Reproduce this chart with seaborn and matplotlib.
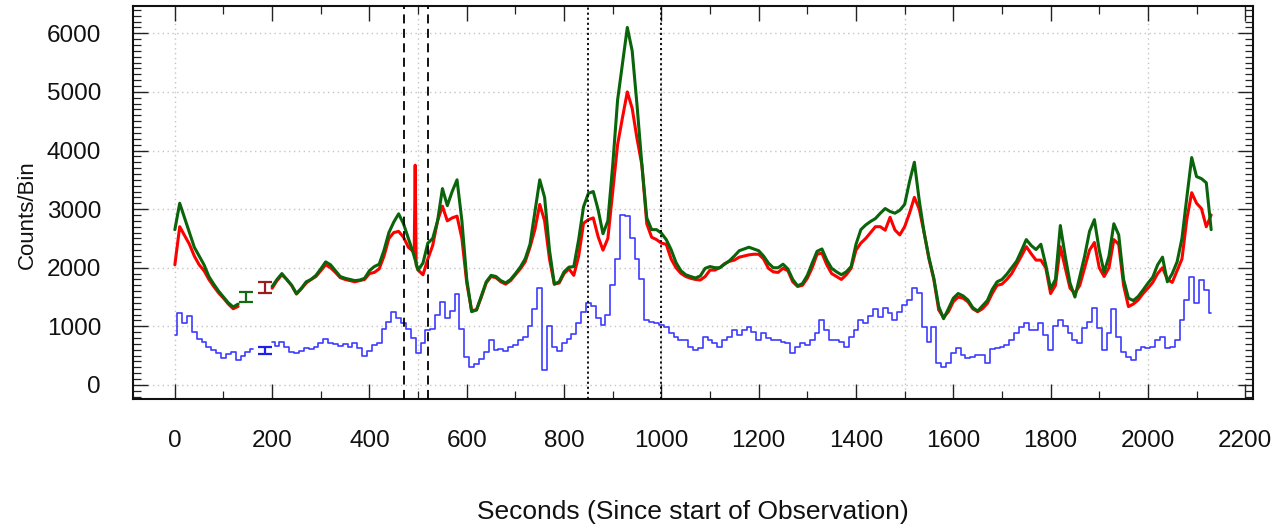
import numpy as np
import pandas as pd
import matplotlib
matplotlib.use("Agg")
import matplotlib.pyplot as plt
import seaborn as sns
from matplotlib.ticker import MultipleLocator

# 10 s bins, seconds since start of observation
time_s = np.arange(0, 2131, 10)
nan = np.nan

green_counts = [
    2650, 3100, 2850, 2600, 2350, 2200, 2050, 1850, 1720, 1600,
    1500, 1400, 1330, 1380, nan, nan, nan, nan, nan, nan,
    1680, 1800, 1900, 1800, 1700, 1560, 1650, 1760, 1800, 1870,
    1980, 2100, 2050, 1950, 1850, 1820, 1800, 1780, 1790, 1820,
    1950, 2020, 2060, 2300, 2600, 2780, 2920, 2750, 2500, 2250,
    1960, 2080, 2420, 2500, 2800, 3350, 3060, 3300, 3500, 2800,
    1800, 1250, 1280, 1520, 1760, 1870, 1850, 1780, 1740, 1800,
    1900, 2010, 2150, 2400, 2950, 3500, 3200, 2300, 1720, 1760,
    1930, 2010, 2020, 2480, 3040, 3270, 3300, 2990, 2580, 2800,
    3750, 4860, 5480, 6100, 5700, 4770, 3750, 2850, 2650, 2650,
    2590, 2480, 2310, 2090, 1950, 1880, 1850, 1825, 1860, 1990,
    2020, 2000, 2000, 2060, 2120, 2200, 2290, 2320, 2350, 2320,
    2290, 2200, 2080, 2000, 2000, 2060, 1980, 1800, 1690, 1730,
    1870, 2080, 2280, 2320, 2130, 1990, 1930, 1880, 1930, 2020,
    2400, 2650, 2730, 2790, 2840, 2930, 3010, 2960, 2930, 2980,
    3080, 3470, 3800, 3150, 2600, 2170, 1820, 1340, 1130, 1300,
    1480, 1560, 1520, 1450, 1320, 1260, 1350, 1440, 1630, 1760,
    1800, 1890, 2000, 2110, 2290, 2480, 2380, 2310, 2400, 2050,
    1640, 1800, 2720, 2200, 1735, 1500, 1850, 2200, 2620, 2820,
    2300, 1920, 2200, 2750, 2560, 1800, 1480, 1440, 1510, 1620,
    1735, 1840, 2050, 2180, 1760, 1900, 2100, 2500, 3200, 3880,
    3555, 3520, 3450, 2650,
]

red_counts = [
    2050, 2700, 2550, 2400, 2200, 2050, 1950, 1800, 1680, 1570,
    1480, 1380, 1300, 1340, nan, nan, nan, nan, nan, nan,
    1650, 1780, 1880, 1800, 1700, 1550, 1640, 1740, 1800, 1850,
    1950, 2050, 2000, 1920, 1830, 1800, 1780, 1760, 1780, 1800,
    1900, 1920, 1980, 2200, 2500, 2600, 2620, 2520, 2350, 2280,
    1960, 1880, 2150, 2380, 2800, 3050, 2800, 2850, 2880, 2500,
    1740, 1270, 1280, 1500, 1740, 1850, 1830, 1760, 1720, 1780,
    1880, 1980, 2100, 2350, 2650, 3080, 2800, 2150, 1720, 1740,
    1900, 1980, 1870, 2200, 2760, 2820, 2850, 2530, 2300, 2500,
    3300, 4100, 4560, 5000, 4720, 4200, 3750, 2750, 2520, 2480,
    2420, 2400, 2150, 2000, 1905, 1850, 1820, 1800, 1790, 1850,
    1960, 1960, 2000, 2070, 2110, 2130, 2180, 2200, 2220, 2230,
    2230, 2150, 1990, 1930, 1920, 1990, 1950, 1760, 1680, 1700,
    1820, 2000, 2230, 2250, 2050, 1900, 1850, 1800, 1880, 1990,
    2300, 2420, 2500, 2600, 2700, 2700, 2640, 2860, 2645, 2560,
    2700, 2930, 3200, 3000, 2600, 2150, 1800, 1280, 1150, 1250,
    1420, 1500, 1480, 1420, 1300, 1250, 1300, 1390, 1560, 1700,
    1720, 1800, 1900, 2050, 2200, 2360, 2240, 2130, 2130, 2000,
    1560, 1700, 2360, 2000, 1650, 1564, 1700, 2000, 2300, 2430,
    2000, 1850, 2000, 2480, 2400, 1700, 1337, 1380, 1450, 1560,
    1650, 1750, 1900, 2000, 1800, 1750, 1950, 2150, 2830, 3280,
    3100, 3010, 2700, 2900,
]

# single-bin flare in the red band
red_spike_time = [492, 494, 496]
red_spike_counts = [2250, 3750, 2050]

blue_counts = [
    860, 1220, 1060, 1180, 900, 780, 730, 640, 600, 540,
    460, 520, 570, 430, 490, 570, 620, nan, nan, nan,
    740, 660, 740, 650, 570, 545, 580, 626, 610, 654,
    711, 780, 723, 700, 666, 690, 654, 711, 626, 500,
    586, 683, 712, 960, 1070, 1250, 1140, 1050, 960, 800,
    540, 720, 940, 960, 1200, 1420, 1150, 1260, 1560, 950,
    480, 300, 360, 450, 560, 760, 600, 620, 580, 640,
    680, 770, 820, 1000, 1300, 1650, 256, 1000, 640, 580,
    720, 790, 870, 1050, 1251, 1393, 1350, 1150, 1030, 1200,
    1700, 2150, 2900, 2880, 2500, 2150, 1800, 1110, 1080, 1052,
    1024, 995, 880, 825, 768, 768, 654, 597, 626, 825,
    768, 711, 654, 768, 825, 938, 853, 938, 995, 910,
    768, 882, 796, 768, 768, 740, 720, 540, 654, 711,
    682, 768, 880, 1100, 939, 768, 768, 739, 654, 825,
    939, 1109, 1052, 1180, 1300, 1166, 1308, 1223, 1109, 1251,
    1365, 1450, 1649, 1564, 995, 740, 990, 370, 313, 370,
    540, 626, 512, 455, 484, 512, 512, 370, 610, 626,
    640, 682, 768, 880, 995, 1052, 939, 939, 1052, 853,
    600, 1000, 1109, 1000, 882, 768, 711, 967, 1081, 1308,
    967, 597, 882, 1297, 825, 569, 484, 427, 597, 654,
    626, 654, 768, 825, 626, 654, 768, 1109, 1450, 1849,
    1393, 1792, 1621, 1223,
]

# representative uncertainties (time, counts, half-height)
err_green = (147, 1508, 85)
err_red = (185, 1661, 95)
err_blue = (185, 586, 57)

# marked intervals
dashed_marks = [470, 520]
dotted_marks = [850, 1000]


def curve_frame(t, v):
    df = pd.DataFrame({"t": np.asarray(t, float), "v": np.asarray(v, float)})
    df = df.sort_values("t").reset_index(drop=True)
    df["seg"] = df["v"].isna().cumsum()
    return df.dropna()


sns.set_theme(style="ticks")
plt.rcParams["font.family"] = ["Liberation Sans", "DejaVu Sans"]

fig = plt.figure(figsize=(12.76, 5.25), dpi=100)
W, H = 1276, 525
ax = fig.add_axes([133 / W, 1 - 399 / H, 1120 / W, 393 / H])

ax.set_xlim(-86, 2216)
ax.set_ylim(-240, 6466)

grid_kw = dict(color="#c4c4c4", lw=1.0, ls=(0, (1, 2.5)), zorder=0)
for gx in range(0, 2001, 500):
    ax.axvline(gx, **grid_kw)
for gy in range(0, 6001, 1000):
    ax.axhline(gy, **grid_kw)

red_df = curve_frame(list(time_s) + red_spike_time, list(red_counts) + red_spike_counts)
green_df = curve_frame(time_s, green_counts)
blue_df = curve_frame(time_s, blue_counts)

sns.lineplot(data=red_df, x="t", y="v", units="seg", estimator=None, sort=False,
             color="#ff0000", lw=2.2, ax=ax, legend=False, zorder=3)
sns.lineplot(data=green_df, x="t", y="v", units="seg", estimator=None, sort=False,
             color="#0a640a", lw=2.2, ax=ax, legend=False, zorder=4)
sns.lineplot(data=blue_df, x="t", y="v", units="seg", estimator=None, sort=False,
             color="#3c3cff", lw=1.2, drawstyle="steps-mid", ax=ax, legend=False, zorder=3)

for (ex, ey, ee), col in [(err_green, "#126b12"), (err_red, "#9a1c1c"), (err_blue, "#2020e8")]:
    ax.errorbar(ex, ey, yerr=ee, color=col, lw=1.6, capsize=5, capthick=1.6, zorder=5)

for vx in dashed_marks:
    ax.axvline(vx, color="black", lw=1.3, ls=(0, (5, 3)), zorder=6)
for vx in dotted_marks:
    ax.axvline(vx, color="black", lw=1.3, ls=(0, (1.2, 1.6)), zorder=6)

ax.xaxis.set_major_locator(MultipleLocator(200))
ax.xaxis.set_minor_locator(MultipleLocator(100))
ax.yaxis.set_major_locator(MultipleLocator(1000))
ax.yaxis.set_minor_locator(MultipleLocator(100))
ax.tick_params(which="both", direction="in", top=True, right=True, color="#222222")
ax.tick_params(which="major", length=11, width=1.0)
ax.tick_params(which="minor", length=5.5, width=0.9)
ax.tick_params(axis="x", which="major", pad=22, labelsize=17.5, labelcolor="#111111")
ax.tick_params(axis="y", which="major", pad=23, labelsize=17.5, labelcolor="#111111")

for sp in ax.spines.values():
    sp.set_linewidth(1.5)
    sp.set_color("#111111")

ax.set_xlabel("Seconds (Since start of Observation)", fontsize=19, color="#111111")
ax.set_ylabel("Counts/Bin", fontsize=16, color="#111111")
ax.xaxis.set_label_coords(0.5, -0.2875)
ax.xaxis.label.set_va("center")
ax.yaxis.set_label_coords(-0.0946, 0.47)
ax.yaxis.label.set_va("center")

fig.savefig("out.png", dpi=100, facecolor="white")
